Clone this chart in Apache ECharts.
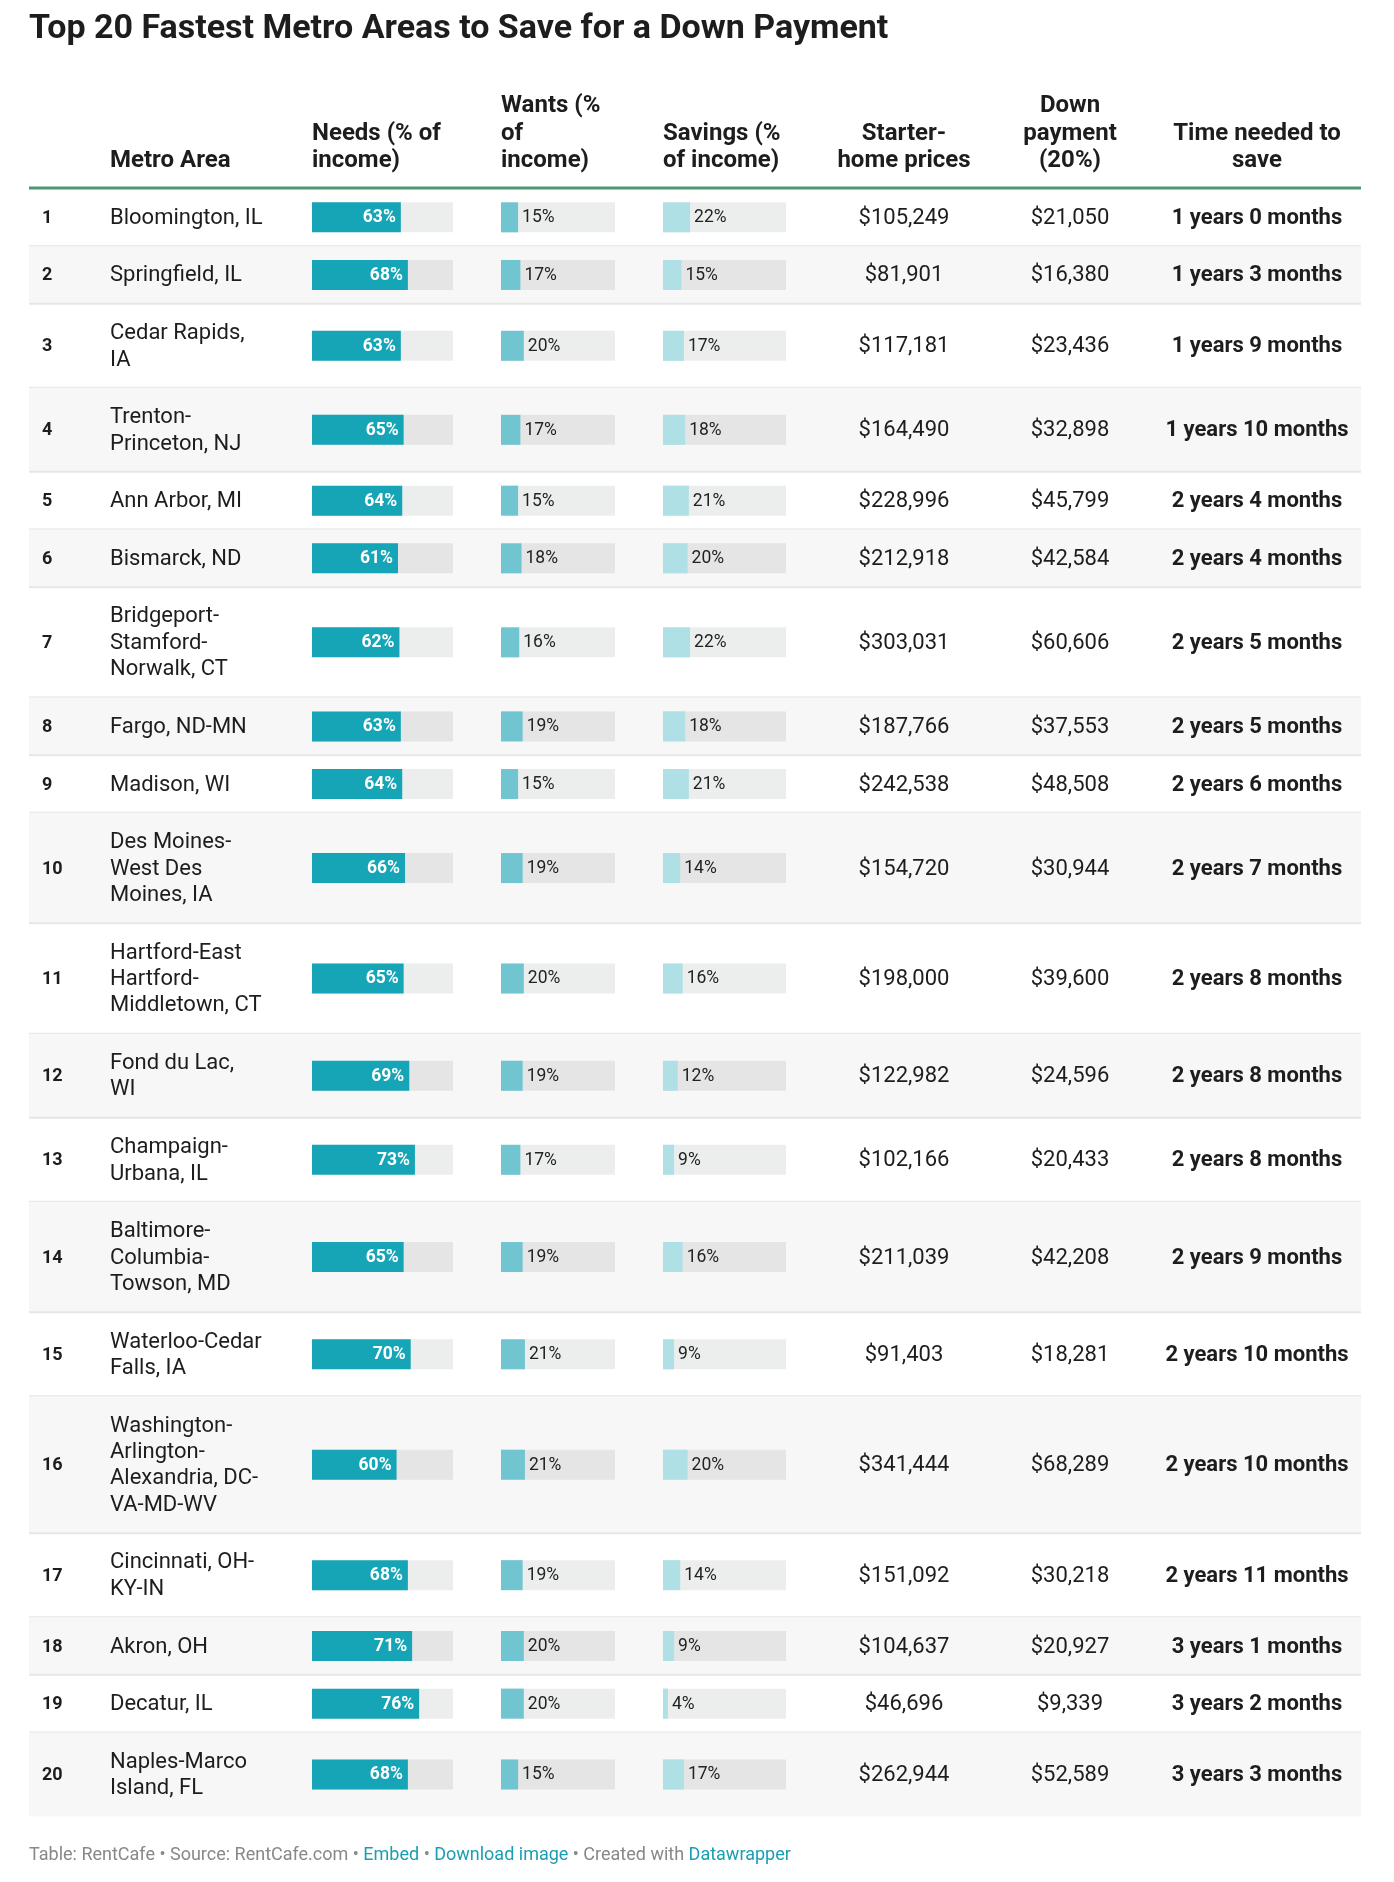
<!DOCTYPE html>
<html><head><meta charset="utf-8">
<script src="https://cdn.jsdelivr.net/npm/echarts@6/dist/echarts.min.js"></script>
<style>html,body{margin:0;padding:0;background:#fff}#c{width:1394px;height:1882px}</style>
</head><body><div id="c"></div>
<script>
const ranks = [1,2,3,4,5,6,7,8,9,10,11,12,13,14,15,16,17,18,19,20];
const metroAreas = ["Bloomington, IL","Springfield, IL","Cedar Rapids,\nIA","Trenton-\nPrinceton, NJ","Ann Arbor, MI","Bismarck, ND","Bridgeport-\nStamford-\nNorwalk, CT","Fargo, ND-MN","Madison, WI","Des Moines-\nWest Des\nMoines, IA","Hartford-East\nHartford-\nMiddletown, CT","Fond du Lac,\nWI","Champaign-\nUrbana, IL","Baltimore-\nColumbia-\nTowson, MD","Waterloo-Cedar\nFalls, IA","Washington-\nArlington-\nAlexandria, DC-\nVA-MD-WV","Cincinnati, OH-\nKY-IN","Akron, OH","Decatur, IL","Naples-Marco\nIsland, FL"];
const needs = [63,68,63,65,64,61,62,63,64,66,65,69,73,65,70,60,68,71,76,68];
const wants = [15,17,20,17,15,18,16,19,15,19,20,19,17,19,21,21,19,20,20,15];
const savings = [22,15,17,18,21,20,22,18,21,14,16,12,9,16,9,20,14,9,4,17];
const starterPrices = ["$105,249","$81,901","$117,181","$164,490","$228,996","$212,918","$303,031","$187,766","$242,538","$154,720","$198,000","$122,982","$102,166","$211,039","$91,403","$341,444","$151,092","$104,637","$46,696","$262,944"];
const downPayments = ["$21,050","$16,380","$23,436","$32,898","$45,799","$42,584","$60,606","$37,553","$48,508","$30,944","$39,600","$24,596","$20,433","$42,208","$18,281","$68,289","$30,218","$20,927","$9,339","$52,589"];
const timeToSave = ["1 years 0 months","1 years 3 months","1 years 9 months","1 years 10 months","2 years 4 months","2 years 4 months","2 years 5 months","2 years 5 months","2 years 6 months","2 years 7 months","2 years 8 months","2 years 8 months","2 years 8 months","2 years 9 months","2 years 10 months","2 years 10 months","2 years 11 months","3 years 1 months","3 years 2 months","3 years 3 months"];
const headers = ["Metro Area","Needs (% of\nincome)","Wants (%\nof\nincome)","Savings (%\nof income)","Starter-\nhome prices","Down\npayment\n(20%)","Time needed to\nsave"];
const titleText = "Top 20 Fastest Metro Areas to Save for a Down Payment";

const FONT = 'Roboto, "Noto Sans", sans-serif';
const LINE = 26.4, PAD = 31.24;
const TOP = 188.5;
const rowStart = [], rowEnd = [], rowCenter = [];
let acc = 0;
metroAreas.forEach(s => {
  const n = s.split('\n').length;
  rowStart.push(acc);
  acc += PAD + n * LINE;
  rowEnd.push(acc);
  rowCenter.push((rowStart[rowStart.length - 1] + acc) / 2);
});
const TOTAL = acc;

const barCols = [
  {vals: needs, left: 312, width: 141, color: '#16a5b6', inside: true},
  {vals: wants, left: 501, width: 114, color: '#70c5d0', inside: false},
  {vals: savings, left: 663, width: 123, color: '#aee0e5', inside: false}
];

const grids = [{left: 0, width: 1394, top: TOP, height: TOTAL}];
const xAxes = [{gridIndex: 0, type: 'value', min: 0, max: 1394, show: false}];
const yAxes = [{gridIndex: 0, type: 'value', min: 0, max: TOTAL, inverse: true, show: false}];
barCols.forEach((b, k) => {
  grids.push({left: b.left, width: b.width, top: TOP, height: TOTAL});
  xAxes.push({gridIndex: k + 1, type: 'value', min: 0, max: 100, show: false});
  yAxes.push({gridIndex: k + 1, type: 'value', min: 0, max: TOTAL, inverse: true, show: false});
});

const series = [];
series.push({
  type: 'custom', xAxisIndex: 0, yAxisIndex: 0, z: 1, silent: true,
  encode: {x: 0, y: 1},
  data: rowStart.map((s, i) => [0, s, rowEnd[i], i]),
  renderItem: function (params, api) {
    const s = api.value(1), e = api.value(2), i = api.value(3);
    const p0 = api.coord([29, s]), p1 = api.coord([1361, e]);
    const ch = [];
    if (i % 2 === 1) ch.push({type: 'rect', shape: {x: p0[0], y: p0[1], width: p1[0] - p0[0], height: p1[1] - p0[1]}, style: {fill: '#f7f7f7'}});
    if (i < ranks.length - 1) ch.push({type: 'rect', shape: {x: p0[0], y: p1[1] - 1, width: p1[0] - p0[0], height: 2}, style: {fill: '#e6e6e6'}});
    return {type: 'group', children: ch};
  }
});
barCols.forEach((b, k) => {
  series.push({
    type: 'custom', xAxisIndex: k + 1, yAxisIndex: k + 1, z: 5, silent: true,
    encode: {x: 0, y: 1},
    data: b.vals.map((v, i) => [v, rowCenter[i], i]),
    renderItem: function (params, api) {
      const v = api.value(0), yc = api.value(1), i = api.value(2);
      const a = api.coord([0, yc]), e = api.coord([100, yc]), c = api.coord([v, yc]);
      const H = 30;
      const ch = [
        {type: 'rect', shape: {x: a[0], y: a[1] - H / 2, width: e[0] - a[0], height: H}, style: {fill: i % 2 === 1 ? '#e5e5e5' : '#eceeed'}},
        {type: 'rect', shape: {x: a[0], y: a[1] - H / 2, width: c[0] - a[0], height: H}, style: {fill: b.color}}
      ];
      if (b.inside) {
        ch.push({type: 'text', style: {text: v + '%', x: c[0] - 5, y: a[1] + 0.5, align: 'right', verticalAlign: 'middle', fill: '#ffffff', fontSize: 17.5, fontWeight: 'bold', fontFamily: FONT}});
      } else {
        ch.push({type: 'text', style: {text: v + '%', x: c[0] + 4, y: a[1] + 0.5, align: 'left', verticalAlign: 'middle', fill: '#222222', fontSize: 17.5, fontFamily: FONT}});
      }
      return {type: 'group', children: ch};
    }
  });
});
series.push({
  type: 'custom', xAxisIndex: 0, yAxisIndex: 0, z: 6, silent: true,
  encode: {x: 0, y: 1},
  data: rowCenter.map((c, i) => [0, c, i]),
  renderItem: function (params, api) {
    const yc = api.value(1), i = api.value(2);
    const pt = (x) => api.coord([x, yc]);
    const base = {fill: '#1d1d1d', fontFamily: FONT, verticalAlign: 'middle'};
    return {type: 'group', children: [
      {type: 'text', style: Object.assign({}, base, {text: String(ranks[i]), x: pt(42)[0], y: pt(42)[1] + 1, align: 'left', fontSize: 18, fontWeight: 'bold'})},
      {type: 'text', style: Object.assign({}, base, {text: metroAreas[i], x: pt(110)[0], y: pt(110)[1] + 1, align: 'left', fontSize: 22, lineHeight: LINE})},
      {type: 'text', style: Object.assign({}, base, {text: starterPrices[i], x: pt(904)[0], y: pt(904)[1] + 1, align: 'center', fontSize: 22})},
      {type: 'text', style: Object.assign({}, base, {text: downPayments[i], x: pt(1070)[0], y: pt(1070)[1] + 1, align: 'center', fontSize: 22})},
      {type: 'text', style: Object.assign({}, base, {text: timeToSave[i], x: pt(1257)[0], y: pt(1257)[1] + 1, align: 'center', fontSize: 22, fontWeight: 'bold'})}
    ]};
  }
});

const headerPos = [[110, 'left'], [312, 'left'], [501, 'left'], [663, 'left'], [904, 'center'], [1070, 'center'], [1257, 'center']];
const graphics = [
  {type: 'text', left: 29, top: 12, style: {text: titleText, fill: '#1d1d1d', fontSize: 34, fontWeight: 'bold', fontFamily: FONT}},
  {type: 'rect', shape: {x: 29, y: 186.5, width: 1332, height: 3}, style: {fill: '#4a9677'}, z: 10},
  {type: 'text', x: 29, y: 1855, style: {
    text: '{g|Table: RentCafe • Source: RentCafe.com • }{l|Embed}{g| • }{l|Download image}{g| • Created with }{l|Datawrapper}',
    verticalAlign: 'middle', fontFamily: FONT, fontSize: 18,
    rich: {g: {fill: '#888888', fontSize: 18, fontFamily: FONT}, l: {fill: '#1a9eb3', fontSize: 18, fontFamily: FONT}}
  }}
];
headers.forEach((h, k) => {
  graphics.push({type: 'text', x: headerPos[k][0], y: 175, style: {text: h, align: headerPos[k][1], verticalAlign: 'bottom', fill: '#1d1d1d', fontSize: 24, fontWeight: 'bold', lineHeight: 27.5, fontFamily: FONT}});
});

const chart = echarts.init(document.getElementById('c'), null, {renderer: 'canvas'});
chart.setOption({
  animation: false,
  backgroundColor: '#ffffff',
  grid: grids, xAxis: xAxes, yAxis: yAxes,
  series: series,
  graphic: graphics
});
</script>
</body></html>
